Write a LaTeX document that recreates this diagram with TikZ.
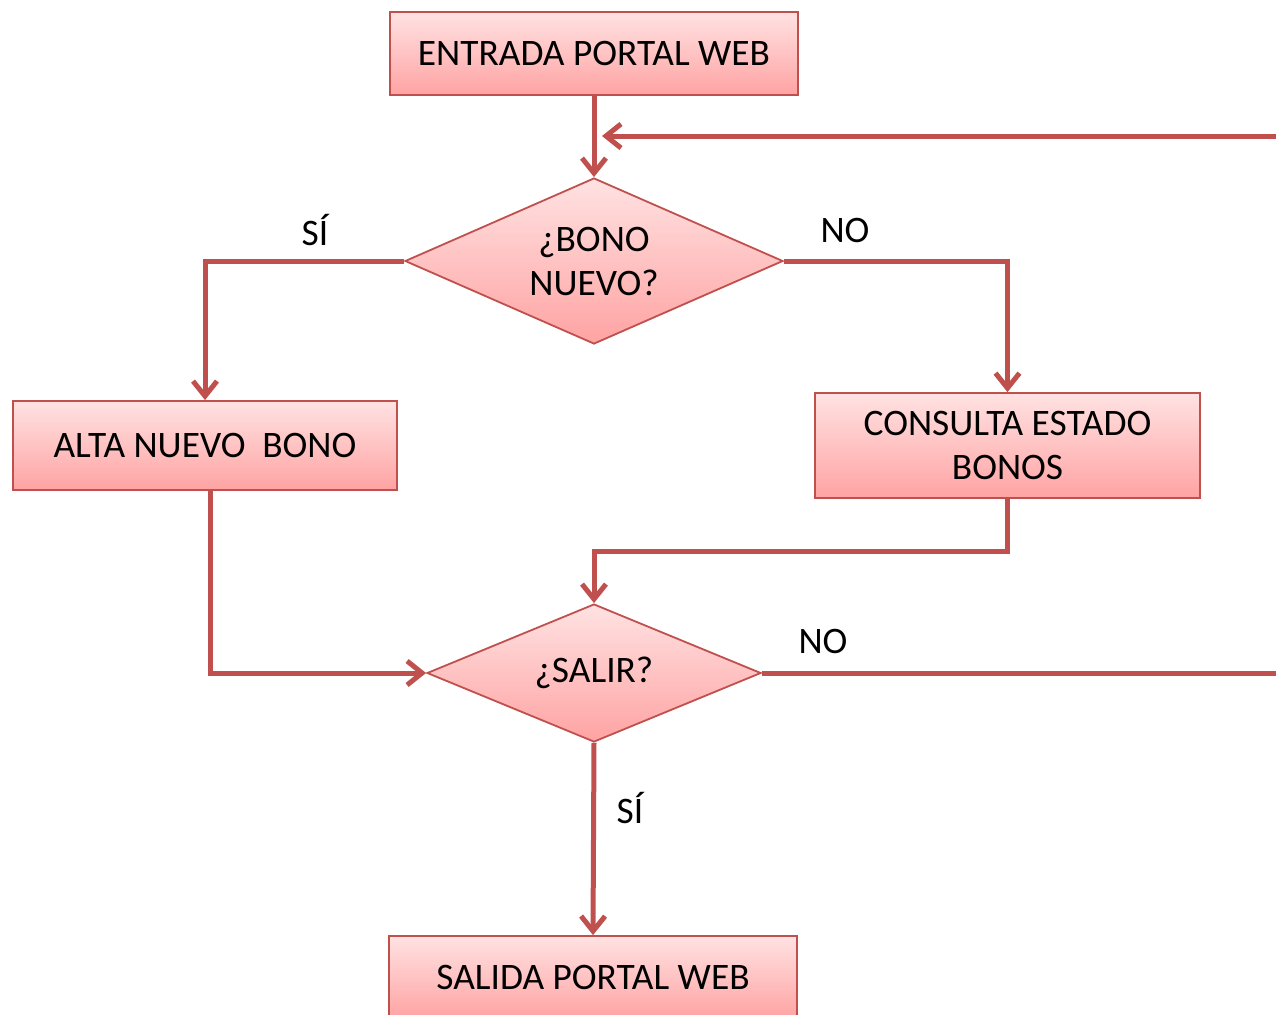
\documentclass[tikz,border=0pt]{standalone}
\usepackage{fontspec}
\setmainfont{Carlito}
\usetikzlibrary{shapes.geometric,arrows.meta}
\definecolor{flowred}{RGB}{192,80,77}
\definecolor{boxtop}{RGB}{255,226,226}
\definecolor{boxbottom}{RGB}{255,163,163}
\tikzset{
  flowbox/.style={draw=flowred, line width=0.9pt, top color=boxtop, bottom color=boxbottom,
    inner sep=0pt, align=center, font=\fontsize{18.7}{22}\selectfont},
  flowdecision/.style={flowbox, diamond, shape aspect=2.2},
  flowline/.style={draw=flowred, line width=2.5pt, -{Straight Barb[length=7.5pt,width=12pt]}},
  flowlabel/.style={font=\fontsize{18.7}{22}\selectfont}
}
\begin{document}
\begin{tikzpicture}[x=0.5pt,y=-0.5pt]
                        \useasboundingbox (0,0) rectangle (1276,1014);
                        \clip (0,0) rectangle (1276,1014);

                        % Drawing box entrada
                        \node [flowbox, minimum width=204pt, minimum height=41.5pt] (entrada) at (594,53.5) {ENTRADA PORTAL WEB};%

                        % Drawing decision bono
                        \node [flowdecision, minimum width=189pt, minimum height=83pt] (bono) at (594,261) {¿BONO\\NUEVO?};%

                        % Drawing box alta
                        \node [flowbox, minimum width=192pt, minimum height=44.5pt] (alta) at (205,445.5) {ALTA NUEVO\ \ BONO};%

                        % Drawing box consulta
                        \node [flowbox, minimum width=192.5pt, minimum height=52.5pt] (consulta) at (1007.5,445.5) {CONSULTA ESTADO\\BONOS};%

                        % Drawing decision salir
                        \node [flowdecision, minimum width=167pt, minimum height=69pt] (salir) at (594,673) {¿SALIR?};%

                        % Drawing box salida
                        \node [flowbox, minimum width=204pt, minimum height=41.5pt] (salida) at (593,977.5) {SALIDA PORTAL WEB};%

                        % Loop coordinates
                        \coordinate (loopout) at (1300,673);%
                        \coordinate (loopin) at (602,136);%

                        % Drawing connectors
                        \draw [flowline] (entrada) -- (bono);%
                        \draw [flowline] (bono.west) -| (alta.north);%
                        \draw [flowline] (bono.east) -| (consulta.north);%
                        \draw [flowline] ([xshift=2.5pt]alta.south) |- (salir.west);%
                        \draw [flowline] (consulta.south) -- ++(0,53) -| (salir.north);%
                        \draw [flowline] (salir.south) -- (salida.north);%
                        \draw [flowline] (salir.east) -- (loopout) |- (loopin);%

                        % Marking labels
                        \node [flowlabel] (bonosi) at (315,230) {SÍ};%
                        \node [flowlabel] (bonono) at (845,230) {NO};%
                        \node [flowlabel] (salirno) at (823,641) {NO};%
                        \node [flowlabel] (salirsi) at (630,808) {SÍ};%
                    \end{tikzpicture}
\end{document}
